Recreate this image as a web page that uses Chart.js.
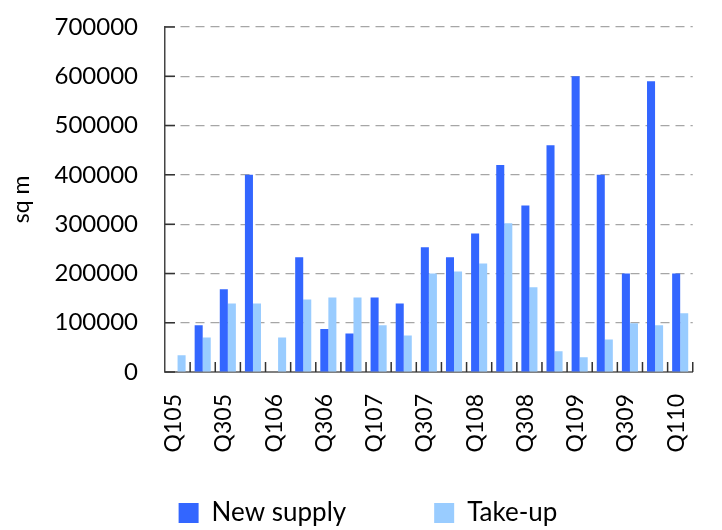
<!DOCTYPE html>
<html>
<head>
<meta charset="utf-8">
<script src="https://cdn.jsdelivr.net/npm/chart.js@4.4.1/dist/chart.umd.min.js"></script>
<style>
  html, body { margin: 0; padding: 0; background: #fff; }
  #wrap { width: 722px; height: 530px; }
</style>
</head>
<body>
<div id="wrap"><canvas id="supplyChart" width="722" height="530"></canvas></div>
<script>
// quarters, every other one gets a label
const quarters = ['Q105', 'Q205', 'Q305', 'Q405', 'Q106', 'Q206', 'Q306', 'Q406', 'Q107', 'Q207',
  'Q307', 'Q407', 'Q108', 'Q208', 'Q308', 'Q408', 'Q109', 'Q209', 'Q309', 'Q409', 'Q110'];
const newSupply = [0, 95000, 168000, 400000, 0, 233000, 87000, 78000, 151000, 139000,
  253000, 233000, 281000, 420000, 338000, 460000, 600000, 400000, 200000, 590000, 200000];
const takeUp = [34000, 70000, 139000, 139000, 70000, 147000, 151000, 151000, 95000, 74000,
  200000, 204000, 220000, 302000, 172000, 42000, 30000, 66000, 99000, 95000, 119000];
const yMax = 700000;
const yStep = 100000;

const fontName = "Lato, 'DejaVu Sans', sans-serif";

// little ticks pointing into the plot, like the original
const innerTicks = {
  id: 'innerTicks',
  afterDraw(chart) {
    const ctx = chart.ctx;
    const x = chart.scales.x;
    const y = chart.scales.y;
    ctx.save();
    ctx.strokeStyle = '#333';
    ctx.lineWidth = 1.5;
    ctx.beginPath();
    y.ticks.forEach(t => {
      const py = y.getPixelForValue(t.value);
      ctx.moveTo(y.right, py);
      ctx.lineTo(y.right + 10, py);
    });
    const half = (x.getPixelForValue(1) - x.getPixelForValue(0)) / 2;
    for (let i = 0; i < quarters.length; i++) {
      const px = x.getPixelForValue(i) + half;
      ctx.moveTo(px, x.top);
      ctx.lineTo(px, x.top - 10);
    }
    ctx.stroke();
    ctx.restore();
  }
};

const ctx = document.getElementById('supplyChart');
new Chart(ctx, {
  type: 'bar',
  data: {
    labels: quarters,
    datasets: [{
      label: 'New supply',
      data: newSupply,
      backgroundColor: '#3366FF'
    }, {
      label: 'Take-up',
      data: takeUp,
      backgroundColor: '#99CCFF'
    }]
  },
  options: {
    responsive: false,
    animation: false,
    layout: { padding: { top: 27, right: 9, left: 23, bottom: -6 } },
    datasets: { bar: { categoryPercentage: 0.64, barPercentage: 1 } },
    plugins: {
      tooltip: { enabled: false },
      legend: {
        position: 'bottom',
        labels: {
          boxWidth: 20,
          boxHeight: 20,
          padding: 88,
          color: '#000',
          font: { family: fontName, size: 26 }
        }
      }
    },
    scales: {
      x: {
        grid: { display: false },
        border: { color: '#808080', width: 2 },
        ticks: {
          autoSkip: false,
          maxRotation: 90,
          minRotation: 90,
          padding: 14,
          labelOffset: -4,
          color: '#000',
          font: { family: fontName, size: 23 },
          callback: function(value, index) {
            return index % 2 === 0 ? quarters[index] : '';
          }
        },
        // legend sits under the labels, so keep the box short and don't clip the labels
        afterFit(scale) {
          scale.height = 40;
          scale._computeLabelArea = function() { return undefined; };
        }
      },
      y: {
        min: 0,
        max: yMax,
        grid: {
          color: c => c.tick.value === 0 ? 'rgba(0,0,0,0)' : '#a6a6a6',
          lineWidth: 1.2,
          drawTicks: true,
          tickLength: 27,
          tickColor: 'rgba(0,0,0,0)'
        },
        border: { color: '#444', width: 1.5, dash: [9, 6] },
        ticks: {
          stepSize: yStep,
          padding: 0,
          color: '#000',
          font: { family: fontName, size: 24 },
          callback: v => String(v)
        },
        title: {
          display: true,
          text: 'sq m',
          color: '#000',
          padding: { top: -15, bottom: 0 },
          font: { family: fontName, size: 23 }
        },
        afterFit(scale) { scale.width = 142; }
      }
    }
  },
  plugins: [innerTicks]
});
</script>
</body>
</html>
